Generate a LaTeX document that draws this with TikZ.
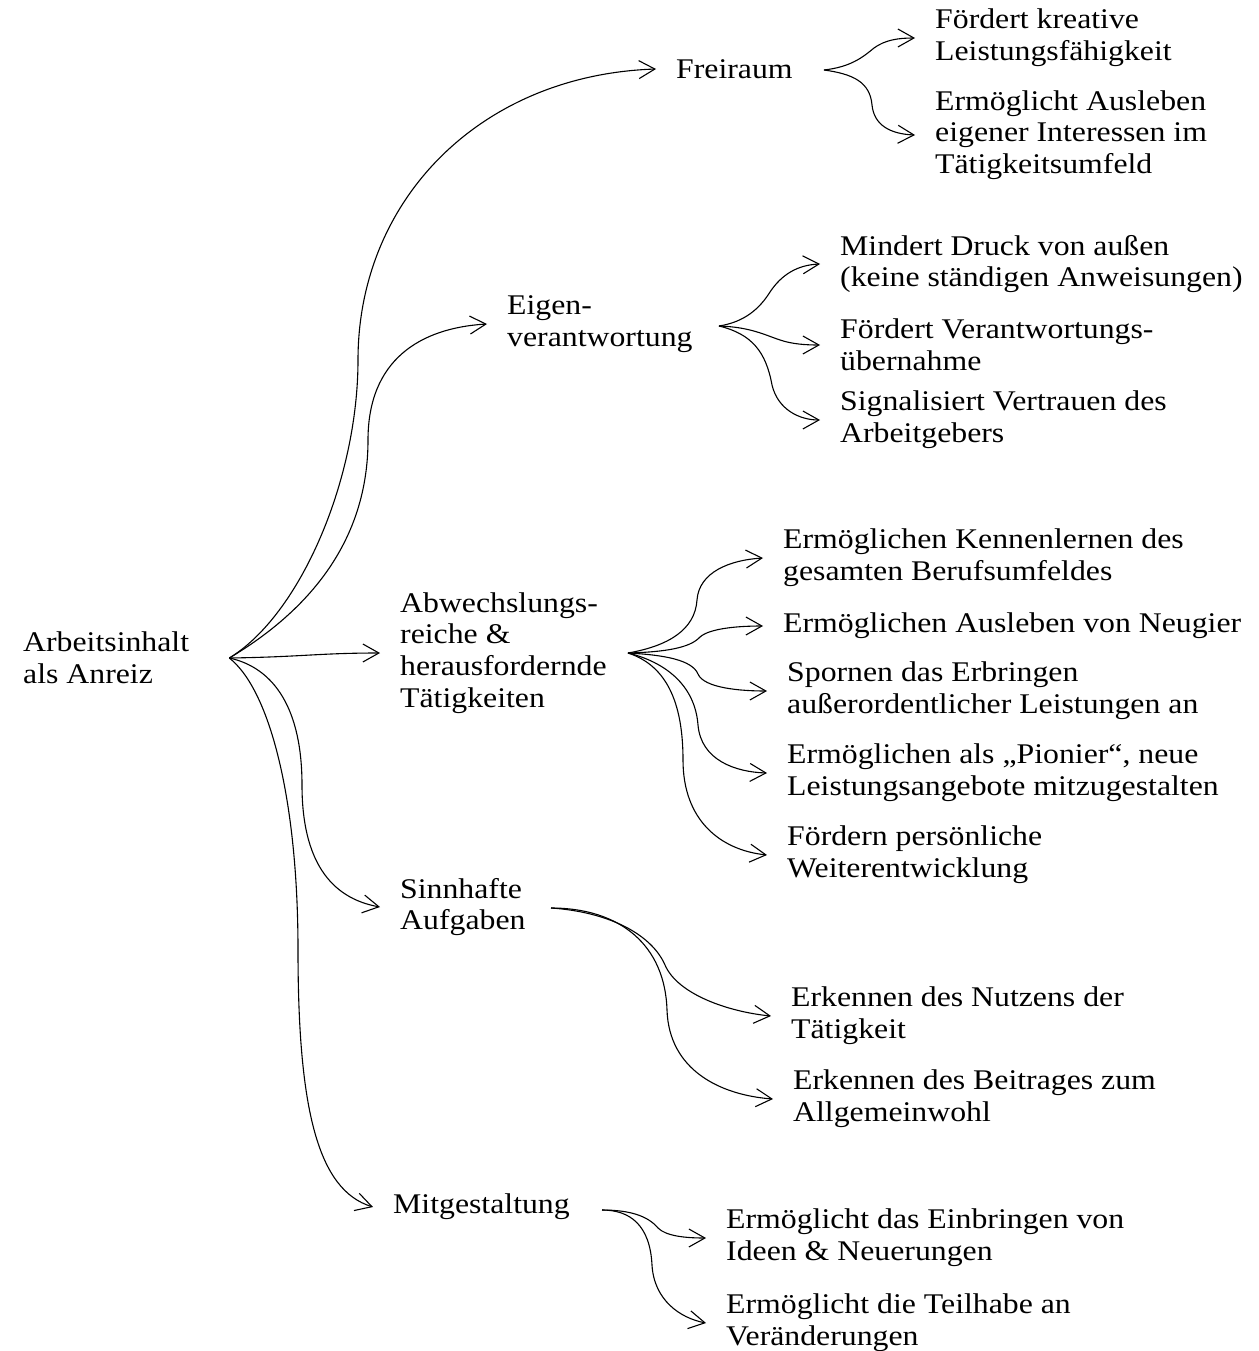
\documentclass[tikz,border=0pt]{standalone}
\usepackage{fontspec}
\setmainfont{Liberation Serif}[FakeStretch=1.115]
\usetikzlibrary{arrows.meta}

\tikzset{
  topic/.style={anchor=west,align=left,inner xsep=20pt,inner ysep=0pt},
  link/.style={->,line width=1.1pt}
}

\begin{document}
\begin{tikzpicture}[x=1pt,y=-1pt,>={Straight Barb[length=16pt,width=18pt]},
  font=\fontsize{28.5}{31.8}\selectfont]
\useasboundingbox (0,0) rectangle (1258,1351);
%%
  % Node: root
  \node[topic] (root) at (3,658) {Arbeitsinhalt\\als Anreiz};
  \coordinate (hub) at ([xshift=20pt]root.east);
  % Node: first level
  \node[topic] (frei) at (656,69) {Freiraum};
  \node[topic] (eigen) at (487,324) {Eigen-\\verantwortung};
  \node[topic] (abw) at (380,653) {Abwechslungs-\\reiche \&\\herausfordernde\\Tätigkeiten};
  \node[topic] (sinn) at (380,907) {Sinnhafte\\Aufgaben};
  \node[topic] (mitg) at (373,1207) {Mitgestaltung};
  \coordinate (frei-fork) at (824,70);
  \coordinate (eigen-fork) at (719,326);
  \coordinate (abw-fork) at (628,653);
  \coordinate (sinn-fork) at (551,908);
  \coordinate (mitg-fork) at (602,1210);
  % Node: second level
  \node[topic] (f1) at (915,38) {Fördert kreative\\Leistungsfähigkeit};
  \node[topic] (f2) at (915,135) {Ermöglicht Ausleben\\eigener Interessen im\\Tätigkeitsumfeld};
  \node[topic] (e1) at (820,264) {Mindert Druck von außen\\(keine ständigen Anweisungen)};
  \node[topic] (e2) at (820,345) {Fördert Verantwortungs-\\übernahme};
  \node[topic] (e3) at (820,420) {Signalisiert Vertrauen des\\Arbeitgebers};
  \node[topic] (a1) at (763,558) {Ermöglichen Kennenlernen des\\gesamten Berufsumfeldes};
  \node[topic] (a2) at (763,626) {Ermöglichen Ausleben von Neugier};
  \node[topic] (a3) at (767,691) {Spornen das Erbringen\\außerordentlicher Leistungen an};
  \node[topic] (a4) at (767,773) {Ermöglichen als „Pionier“, neue\\Leistungsangebote mitzugestalten};
  \node[topic] (a5) at (767,855) {Fördern persönliche\\Weiterentwicklung};
  \node[topic] (s1) at (771,1016) {Erkennen des Nutzens der\\Tätigkeit};
  \node[topic] (s2) at (773,1099) {Erkennen des Beitrages zum\\Allgemeinwohl};
  \node[topic] (m1) at (706,1238) {Ermöglicht das Einbringen von\\Ideen \& Neuerungen};
  \node[topic] (m2) at (706,1323) {Ermöglicht die Teilhabe an\\Veränderungen};
  % Edge: root -> first level
  \draw [link] (hub) .. controls (300,615) and (358,480) .. (358,360) .. controls (358,200) and (480,75) .. (frei.west);
  \draw [link] (hub) .. controls (310,610) and (368,540) .. (368,440) .. controls (368,360) and (420,328) .. (eigen.west);
  \draw [link] (hub) .. controls (300,657) and (320,653) .. (abw.west);
  \draw [link] (hub) .. controls (275,668) and (302,710) .. (302,785) .. controls (302,860) and (330,898) .. (sinn.west);
  \draw [link] (hub) .. controls (270,690) and (298,800) .. (298,950) .. controls (298,1110) and (318,1190) .. (mitg.west);
  % Edge: frei -> f1, f2
  \draw [link] (frei-fork) .. controls (850,67) and (862,58) .. (874,48) .. controls (885,40) and (898,38) .. (f1.west);
  \draw [link] (frei-fork) .. controls (853,74) and (870,82) .. (872,105) .. controls (874,125) and (890,134) .. (f2.west);
  % Edge: eigen -> e1, e2, e3
  \draw [link] (eigen-fork) .. controls (745,322) and (760,308) .. (770,292) .. controls (782,274) and (798,265) .. (e1.west);
  \draw [link] (eigen-fork) .. controls (750,327) and (765,335) .. (780,340) .. controls (792,344) and (805,345) .. (e2.west);
  \draw [link] (eigen-fork) .. controls (752,334) and (766,352) .. (772,385) .. controls (778,410) and (800,420) .. (e3.west);
  % Edge: abw -> a1 ... a5
  \draw [link] (abw-fork) .. controls (668,646) and (695,630) .. (697,600) .. controls (699,572) and (730,560) .. (a1.west);
  \draw [link] (abw-fork) .. controls (665,652) and (690,648) .. (700,637) .. controls (710,628) and (740,626) .. (a2.west);
  \draw [link] (abw-fork) .. controls (665,655) and (692,660) .. (698,674) .. controls (704,688) and (740,691) .. (a3.west);
  \draw [link] (abw-fork) .. controls (665,662) and (695,685) .. (698,725) .. controls (701,760) and (735,772) .. (a4.west);
  \draw [link] (abw-fork) .. controls (665,665) and (683,700) .. (683,760) .. controls (683,820) and (720,850) .. (a5.west);
  % Edge: sinn -> s1, s2
  \draw [link] (sinn-fork) .. controls (610,912) and (652,935) .. (665,965) .. controls (678,995) and (730,1012) .. (s1.west);
  \draw [link] (sinn-fork) .. controls (620,908) and (665,945) .. (667,1010) .. controls (669,1070) and (720,1095) .. (s2.west);
  % Edge: mitg -> m1, m2
  \draw [link] (mitg-fork) .. controls (630,1210) and (648,1216) .. (658,1228) .. controls (666,1236) and (685,1238) .. (m1.west);
  \draw [link] (mitg-fork) .. controls (630,1210) and (650,1225) .. (652,1265) .. controls (654,1300) and (680,1318) .. (m2.west);
%
\end{tikzpicture}
\end{document}
